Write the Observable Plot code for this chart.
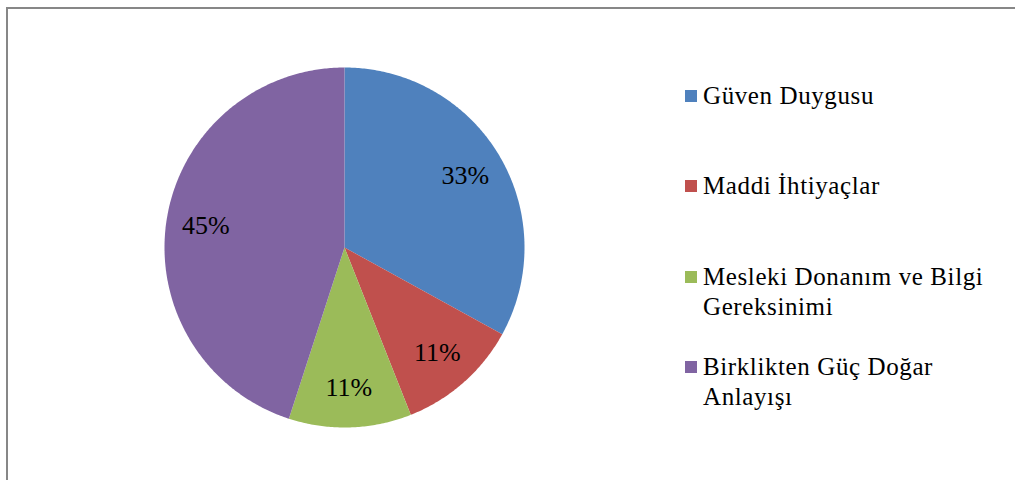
<!DOCTYPE html>
<html>
<head>
<meta charset="utf-8">
<script src="https://cdn.jsdelivr.net/npm/d3@7"></script>
<script src="https://cdn.jsdelivr.net/npm/@observablehq/plot@0.6"></script>
<style>
  html, body { margin: 0; padding: 0; background: #fff; }
  #wrap { position: relative; width: 1015px; height: 480px; overflow: hidden; }
  #frame { position: absolute; left: 6px; top: 7px; width: 1100px; height: 600px; border: 2px solid #878787; box-sizing: border-box; }
  #chart { position: absolute; left: 0; top: 0; }
  #legend { position: absolute; left: 685px; top: 0; }
  .item { position: absolute; left: 0; width: 330px; }
  .sw { position: absolute; left: 0; width: 12px; height: 12px; }
  .lbl { position: absolute; left: 18px; font-size: 25px; line-height: 30px; letter-spacing: 0.6px; color: #000; white-space: nowrap; }
</style>
</head>
<body>
<div id="wrap">
  <div id="frame"></div>
  <div id="chart"></div>
  <div id="legend" style="font-family:'Liberation Serif'"></div>
</div>
<script>
// Data
const categories = ["Güven Duygusu", "Maddi İhtiyaçlar", "Mesleki Donanım ve Bilgi Gereksinimi", "Birklikten Güç Doğar Anlayışı"];
const legendLines = [["Güven Duygusu"], ["Maddi İhtiyaçlar"], ["Mesleki Donanım ve Bilgi", "Gereksinimi"], ["Birklikten Güç Doğar", "Anlayışı"]];
const values = [33, 11, 11, 45];
const labels = ["33%", "11%", "11%", "45%"];
const colors = ["#4F81BD", "#C0504D", "#9BBB59", "#8064A2"];

// Build slices (angles measured clockwise from top)
const pie = d3.pie().sort(null).value(d => d)(values);
const slicePts = [];
const labelPts = [];
pie.forEach((p, i) => {
  const n = Math.max(4, Math.ceil((p.endAngle - p.startAngle) / 0.01));
  slicePts.push({key: categories[i], x: 0, y: 0});
  for (let k = 0; k <= n; k++) {
    const a = p.startAngle + (p.endAngle - p.startAngle) * k / n;
    slicePts.push({key: categories[i], x: Math.sin(a), y: Math.cos(a)});
  }
  slicePts.push({key: categories[i], x: 0, y: 0});
  const m = (p.startAngle + p.endAngle) / 2;
  labelPts.push({key: categories[i], label: labels[i], x: 0.78 * Math.sin(m), y: 0.78 * Math.cos(m)});
});

const chart = Plot.plot({
  width: 1015,
  height: 480,
  margin: 0,
  x: {domain: [-1, 1], range: [164, 524], axis: null},
  y: {domain: [-1, 1], range: [427, 67], axis: null},
  color: {domain: categories, range: colors},
  style: {background: "transparent"},
  marks: [
    Plot.line(slicePts, {x: "x", y: "y", z: "key", fill: "key", stroke: "none", curve: "linear"}),
    Plot.text(labelPts, {x: "x", y: "y", text: "label", fontSize: 26, fontFamily: "Liberation Serif", fill: "#000"})
  ]
});
document.getElementById("chart").appendChild(chart);

// Legend
const legendTops = [96, 186, 277, 367];
const legend = document.getElementById("legend");
legendLines.forEach((lines, i) => {
  const item = document.createElement("div");
  item.className = "item";
  item.style.top = (legendTops[i] - 15) + "px";
  const sw = document.createElement("div");
  sw.className = "sw";
  sw.style.background = colors[i];
  sw.style.top = "9px";
  item.appendChild(sw);
  const lbl = document.createElement("div");
  lbl.className = "lbl";
  lbl.style.fontFamily = "'Liberation Serif'";
  lbl.innerHTML = lines.join("<br>");
  item.appendChild(lbl);
  legend.appendChild(item);
});
</script>
</body>
</html>
